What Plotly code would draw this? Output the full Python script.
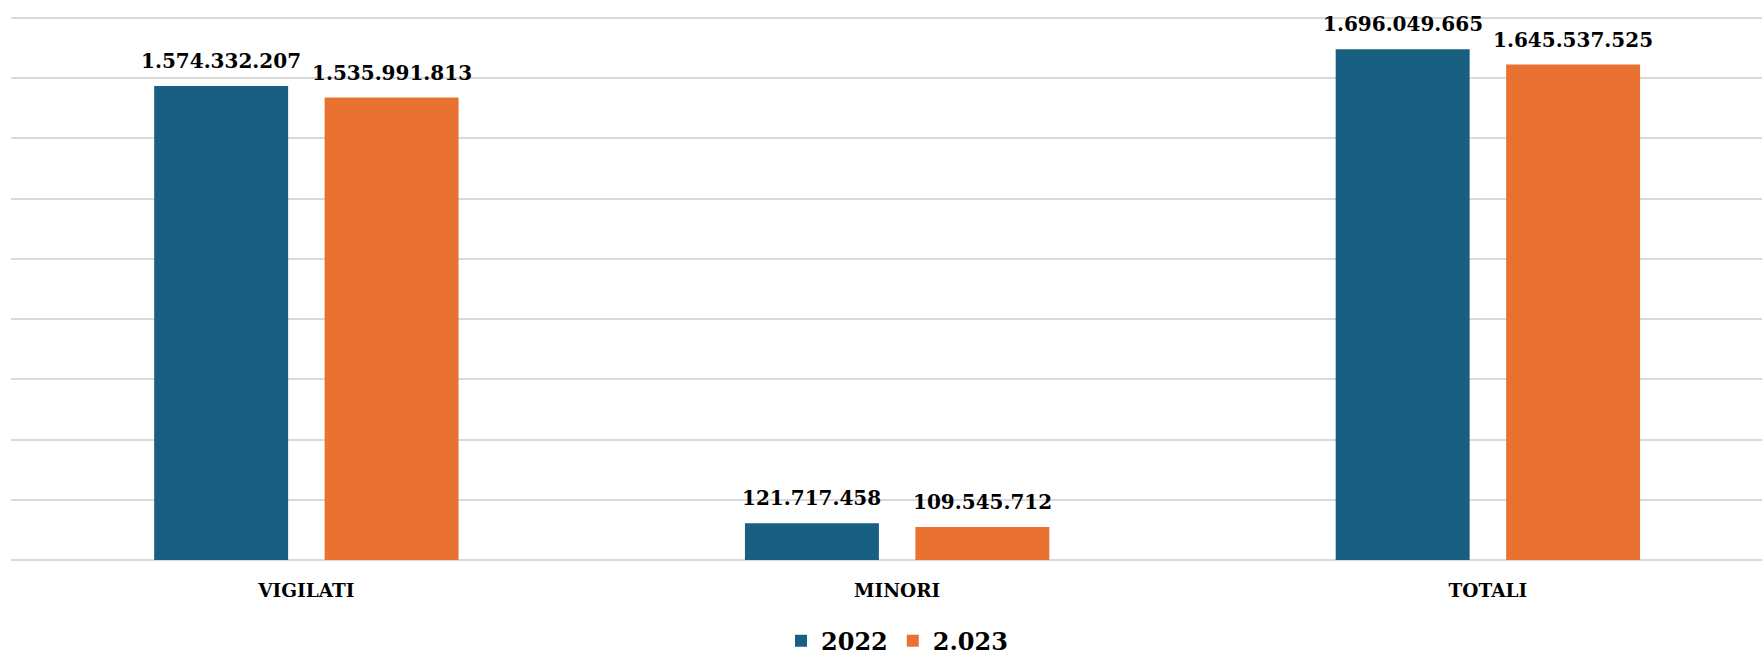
import plotly.graph_objects as go

categories = ["VIGILATI", "MINORI", "TOTALI"]
values_2022 = [1574332207, 121717458, 1696049665]
values_2023 = [1535991813, 109545712, 1645537525]
series_names = ["2022", "2.023"]

BLUE = "#185F81"
ORANGE = "#E97233"
FONT = "DejaVu Serif"
BARGAP = 0.423
slot = (1 - BARGAP) / 2  # width of one bar slot, in category units

fig = go.Figure()
for k, (name, vals, col) in enumerate([(series_names[0], values_2022, BLUE),
                                       (series_names[1], values_2023, ORANGE)]):
    fig.add_trace(go.Bar(
        x=categories, y=vals, name=name, marker_color=col,
        marker_line_width=0,
    ))
    # value labels, a bit above each bar (Excel style)
    off = (k - 0.5) * slot
    for i, v in enumerate(vals):
        fig.add_annotation(
            x=i + off, y=v, xref="x", yref="y",
            text=f"{v:,}".replace(",", "."), showarrow=False,
            yanchor="bottom", yshift=11,
            font=dict(family=FONT, size=20, color="black", weight="bold"),
        )

fig.update_layout(
    width=1764, height=657,
    paper_bgcolor="white", plot_bgcolor="white",
    barmode="group", bargap=BARGAP, bargroupgap=0.214,
    margin=dict(l=11, r=2, t=12, b=97, autoexpand=False),
    font=dict(family=FONT, color="black"),
    showlegend=True,
    legend=dict(orientation="h", x=0.506, xanchor="center",
                yref="container", y=0.024, yanchor="middle",
                font=dict(family=FONT, size=24, weight="bold"),
                itemwidth=30, traceorder="normal"),
    xaxis=dict(showgrid=False, showline=False, ticks="",
               range=[-0.5, 2.464],
               tickfont=dict(family=FONT, size=18.5, weight="bold"),
               ticklabelstandoff=17),
    yaxis=dict(range=[0, 1.82e9], dtick=2e8, showticklabels=False,
               showgrid=True, gridcolor="#D9D9D9", gridwidth=1.8,
               zeroline=True, zerolinecolor="#D9D9D9", zerolinewidth=1.8),
)

fig.write_html("out.html", config={"displayModeBar": False},
               post_script="document.body.style.margin='0';")
